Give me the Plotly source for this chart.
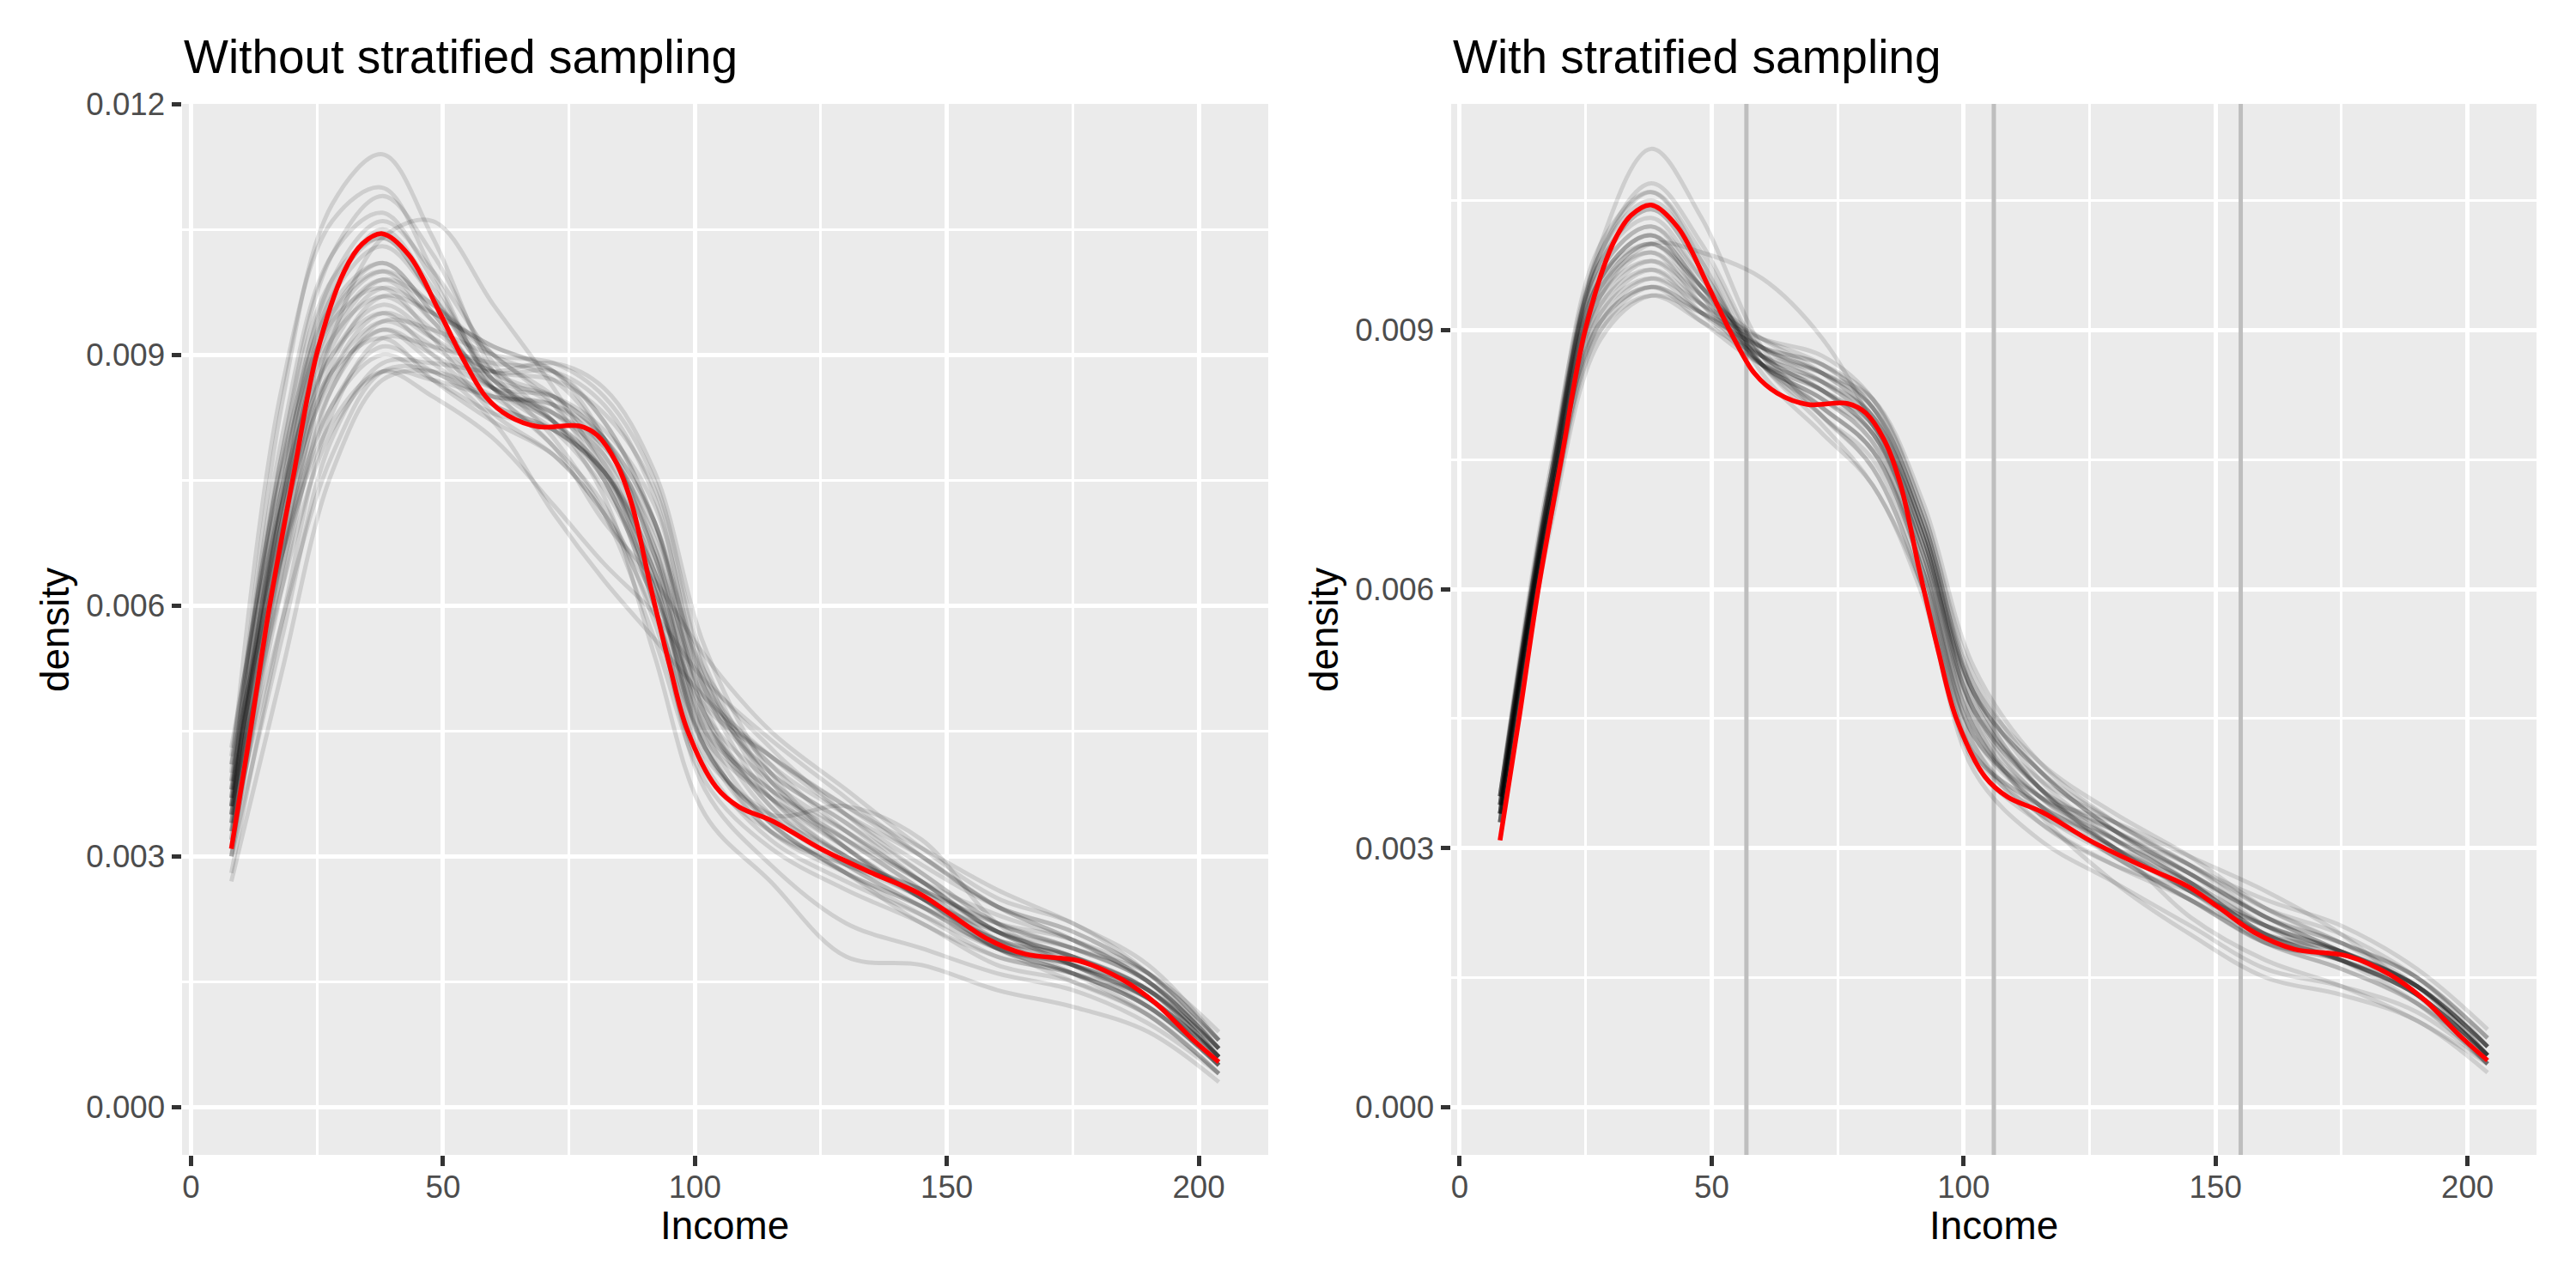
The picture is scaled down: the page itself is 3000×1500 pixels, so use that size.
import plotly.graph_objects as go

# ---------------- data ----------------
# common evaluation grid (Income) for the bootstrap density curves
income_grid = [8, 18, 28, 38, 48, 60, 72, 82, 92, 102, 115, 130, 145, 160, 175, 190, 204]

# density of the full data set (red curve, identical in both panels)
full_x = [8, 11.8, 15.6, 20.4, 24.9, 30.4, 34, 38, 43.3, 49.4, 54, 58.5, 63, 69, 77,
          80.6, 84.4, 87.5, 91.3, 95, 98.5, 104.2, 108.8, 115.5, 125.3, 135.2, 144.4,
          150.7, 157.8, 165.6, 176.2, 184.7, 191.7, 198.8, 204]
full_density = [0.00309, 0.00451, 0.0060, 0.00758, 0.0090, 0.0100, 0.01033, 0.01045,
                0.01019, 0.0095, 0.00895, 0.0085, 0.00827, 0.00814, 0.00815, 0.00804,
                0.00771, 0.00721, 0.0062, 0.00528, 0.00451, 0.00383, 0.00359, 0.00342,
                0.00308, 0.0028, 0.00256, 0.00231, 0.00202, 0.00183, 0.00175, 0.00153,
                0.00123, 0.00081, 0.00054]

# bootstrap densities without stratified sampling (units of 1e-4)
no_strat_e4 = [
    [36, 84, 108, 114, 104, 88, 80, 71, 56, 39, 31, 26, 22, 17, 15, 11, 4],
    [40, 86, 106, 110, 100, 86, 79, 72, 58, 40, 33, 29, 25, 19, 15, 11, 4],
    [34, 78, 102, 109, 102, 89, 82, 75, 60, 41, 32, 27, 23, 19, 17, 13, 6],
    [38, 80, 102, 107, 99, 87, 83, 77, 63, 43, 34, 28, 23, 18, 16, 12, 5],
    [33, 74, 99, 106, 100, 90, 85, 78, 64, 43, 33, 28, 24, 20, 17, 12, 5],
    [37, 78, 99, 104, 97, 87, 82, 75, 60, 42, 35, 30, 25, 19, 16, 12, 5],
    [35, 74, 97, 103, 97, 88, 85, 80, 67, 45, 34, 28, 22, 18, 16, 13, 6],
    [39, 77, 96, 101, 95, 86, 81, 74, 62, 45, 37, 31, 25, 20, 18, 14, 6],
    [32, 70, 94, 100, 96, 90, 87, 80, 66, 44, 33, 29, 26, 21, 17, 13, 6],
    [36, 72, 93, 99, 94, 87, 85, 80, 70, 48, 36, 30, 25, 21, 18, 14, 7],
    [41, 76, 94, 98, 92, 83, 78, 71, 59, 44, 37, 32, 27, 21, 18, 14, 6],
    [34, 68, 91, 98, 95, 91, 88, 82, 70, 47, 35, 29, 24, 19, 17, 14, 7],
    [38, 72, 92, 97, 93, 88, 88, 84, 73, 50, 37, 30, 26, 22, 19, 15, 7],
    [30, 64, 89, 97, 95, 91, 88, 80, 66, 46, 38, 33, 27, 21, 17, 13, 6],
    [36, 70, 90, 96, 92, 86, 82, 76, 64, 47, 39, 33, 27, 21, 18, 14, 7],
    [42, 74, 90, 95, 90, 84, 81, 76, 64, 46, 37, 30, 26, 22, 20, 15, 8],
    [33, 66, 88, 95, 92, 88, 87, 83, 74, 52, 38, 31, 25, 19, 16, 12, 5],
    [37, 69, 88, 94, 91, 86, 83, 78, 67, 49, 40, 34, 28, 22, 19, 15, 7],
    [31, 62, 86, 94, 93, 90, 89, 85, 75, 53, 39, 32, 26, 20, 17, 14, 6],
    [39, 70, 87, 93, 89, 84, 81, 76, 66, 50, 41, 35, 30, 24, 20, 15, 7],
    [35, 66, 86, 93, 90, 86, 85, 81, 72, 51, 39, 31, 25, 21, 19, 15, 7],
    [43, 72, 88, 92, 87, 82, 78, 71, 61, 48, 42, 36, 30, 24, 21, 16, 8],
    [28, 58, 83, 92, 91, 89, 88, 82, 70, 50, 40, 34, 27, 21, 18, 13, 5],
    [34, 64, 84, 91, 88, 85, 84, 80, 70, 51, 41, 33, 27, 23, 20, 16, 8],
    [38, 66, 84, 90, 87, 83, 81, 76, 65, 49, 42, 36, 31, 26, 22, 17, 8],
    [30, 56, 80, 89, 89, 88, 89, 86, 76, 55, 40, 31, 25, 20, 18, 14, 6],
    [36, 62, 81, 88, 87, 85, 84, 79, 69, 52, 43, 35, 28, 22, 19, 16, 9],
    [27, 52, 76, 87, 88, 85, 79, 70, 63, 54, 45, 38, 31, 25, 22, 16, 7],
    [41, 66, 82, 88, 85, 80, 72, 65, 59, 51, 44, 37, 30, 24, 20, 15, 6],
    [33, 58, 78, 88, 88, 82, 71, 63, 56, 49, 42, 35, 29, 24, 21, 16, 8],
    [35, 72, 95, 101, 95, 86, 82, 76, 62, 43, 35, 36, 32, 22, 17, 13, 6],
    [37, 76, 98, 104, 97, 87, 82, 73, 54, 35, 27, 18, 17, 14, 12, 9, 3],
    [32, 72, 97, 105, 98, 88, 84, 77, 60, 38, 29, 22, 19, 16, 14, 10, 4],
    [30, 66, 92, 104, 106, 96, 86, 76, 63, 43, 34, 28, 24, 19, 16, 12, 5],
    [35, 70, 92, 99, 96, 90, 84, 75, 62, 45, 38, 32, 26, 20, 16, 11, 4],
    [36, 73, 95, 100, 94, 86, 83, 79, 68, 47, 36, 29, 24, 19, 17, 13, 5],
]

# bootstrap densities with stratified sampling (units of 1e-4)
strat_e4 = [
    [34, 72, 100, 111, 103, 88, 80, 74, 60, 40, 33, 28, 24, 19, 17, 13, 6],
    [35, 73, 99, 107, 100, 87, 80, 75, 61, 41, 34, 29, 24, 19, 16, 12, 5],
    [33, 72, 99, 106, 99, 87, 81, 76, 62, 42, 33, 28, 25, 21, 18, 14, 7],
    [36, 74, 99, 105, 98, 86, 80, 74, 60, 41, 35, 30, 25, 20, 17, 13, 6],
    [34, 72, 98, 104, 97, 86, 81, 76, 63, 43, 35, 29, 24, 19, 17, 13, 6],
    [35, 73, 98, 103, 96, 86, 82, 77, 62, 42, 34, 30, 26, 21, 17, 12, 5],
    [33, 71, 97, 102, 96, 87, 83, 78, 64, 44, 35, 29, 24, 20, 18, 14, 7],
    [36, 73, 97, 102, 95, 86, 82, 77, 63, 43, 36, 31, 26, 20, 17, 13, 6],
    [34, 71, 96, 101, 95, 87, 83, 78, 65, 45, 36, 30, 25, 19, 16, 12, 6],
    [35, 72, 96, 101, 94, 86, 82, 78, 64, 44, 35, 31, 27, 22, 18, 14, 7],
    [33, 70, 95, 100, 95, 88, 84, 79, 66, 46, 37, 30, 25, 20, 18, 14, 7],
    [36, 72, 95, 99, 93, 86, 83, 78, 64, 44, 36, 32, 27, 21, 17, 13, 6],
    [34, 70, 94, 99, 94, 88, 85, 80, 67, 47, 37, 30, 25, 21, 18, 13, 5],
    [35, 71, 94, 98, 93, 87, 84, 79, 66, 46, 37, 32, 27, 22, 19, 15, 7],
    [33, 69, 93, 98, 94, 89, 85, 80, 66, 46, 36, 31, 26, 20, 17, 14, 7],
    [36, 71, 93, 97, 92, 86, 83, 79, 65, 46, 38, 33, 28, 22, 19, 15, 8],
    [34, 69, 92, 97, 93, 88, 85, 81, 68, 48, 37, 30, 26, 21, 18, 14, 6],
    [35, 70, 92, 96, 92, 87, 84, 80, 67, 48, 39, 32, 27, 22, 18, 14, 7],
    [33, 68, 91, 96, 93, 89, 86, 81, 68, 48, 37, 31, 26, 20, 17, 13, 6],
    [36, 70, 91, 95, 91, 86, 84, 80, 67, 48, 39, 33, 28, 23, 20, 15, 8],
    [34, 68, 90, 95, 92, 88, 86, 82, 69, 49, 38, 31, 25, 21, 18, 14, 7],
    [35, 69, 90, 94, 91, 87, 85, 81, 68, 49, 40, 34, 29, 23, 19, 15, 8],
    [33, 67, 89, 94, 92, 89, 87, 82, 69, 50, 39, 32, 26, 20, 17, 13, 6],
    [36, 70, 91, 95, 92, 88, 86, 81, 67, 47, 37, 32, 28, 23, 19, 14, 6],
    [34, 70, 94, 100, 99, 96, 89, 79, 65, 48, 39, 32, 27, 22, 18, 14, 6],
    [35, 73, 100, 106, 98, 85, 78, 72, 59, 39, 31, 26, 21, 16, 14, 11, 5],
    [34, 72, 98, 104, 97, 86, 79, 72, 60, 41, 35, 30, 22, 17, 14, 10, 5],
    [33, 70, 96, 101, 95, 87, 83, 79, 66, 45, 34, 26, 20, 15, 13, 10, 4],
    [36, 72, 96, 100, 95, 88, 85, 82, 70, 51, 40, 33, 28, 24, 21, 16, 9],
    [34, 71, 95, 100, 94, 86, 81, 76, 62, 43, 36, 33, 29, 25, 20, 13, 5],
]

# strata boundaries (Income) drawn in the right panel
strata_breaks = [56.9, 106.0, 155.0]

x_ticks = [0, 50, 100, 150, 200]
x_minor = [25, 75, 125, 175]
left_y_ticks = [0.0, 0.003, 0.006, 0.009, 0.012]
right_y_ticks = [0.0, 0.003, 0.006, 0.009]
y_minor = [0.0015, 0.0045, 0.0075, 0.0105]

panel_titles = ["Without stratified sampling", "With stratified sampling"]
x_title = "Income"
y_title = "density"

# ---------------- style / layout ----------------
# the page body has an 8px margin, so the figure is 16px smaller than the window
OFF = 8
W, H = 3000 - 2 * OFF, 1500 - 2 * OFF
FONT = "Liberation Sans, Arial, Helvetica, sans-serif"


def fx(p):  # window pixel -> paper x
    return (p - OFF) / W


def fy(p):  # window pixel -> paper y
    return 1 - (p - OFF) / H


left_px = (212, 1477)
right_px = (1690, 2954)
top_px, bottom_px = 121, 1345
left_yrange = [-0.000572, 0.012003]
right_yrange = [-0.000554, 0.011621]
xrange = [-1.79, 213.8]
xrange2 = [-1.70, 213.7]

GRAY = "rgba(0,0,0,0.12)"
LW = 5.0

fig = go.Figure()


def add_curves(rows, xa, ya):
    for row in rows:
        fig.add_trace(go.Scatter(
            x=income_grid, y=[v / 1e4 for v in row], xaxis=xa, yaxis=ya,
            mode="lines", line=dict(color=GRAY, width=LW, shape="spline", smoothing=1.0),
            hoverinfo="skip", showlegend=False))


# left panel
add_curves(no_strat_e4, "x", "y")
fig.add_trace(go.Scatter(x=full_x, y=full_density, xaxis="x", yaxis="y", mode="lines",
                         line=dict(color="#FF0000", width=5.5, shape="spline", smoothing=1.0),
                         showlegend=False))

# right panel: strata boundary lines
for b in strata_breaks:
    fig.add_trace(go.Scatter(x=[b, b], y=right_yrange, xaxis="x2", yaxis="y2", mode="lines",
                             line=dict(color="#BEBEBE", width=5), hoverinfo="skip",
                             showlegend=False))
add_curves(strat_e4, "x2", "y2")
fig.add_trace(go.Scatter(x=full_x, y=full_density, xaxis="x2", yaxis="y2", mode="lines",
                         line=dict(color="#FF0000", width=5.5, shape="spline", smoothing=1.0),
                         showlegend=False))

ydom = [fy(bottom_px), fy(top_px)]


def xaxis_cfg(px, rng, anchor):
    return dict(domain=[fx(px[0]), fx(px[1])], range=rng, anchor=anchor,
                tickmode="array", tickvals=x_ticks, ticks="outside", ticklen=11.5,
                tickwidth=5, tickcolor="#333333", ticklabelstandoff=-7,
                tickfont=dict(family=FONT, size=36.7, color="#4D4D4D"),
                showgrid=True, gridcolor="white", gridwidth=5, zeroline=False,
                showline=False, fixedrange=True, automargin=False,
                minor=dict(tickvals=x_minor, showgrid=True, gridcolor="white",
                           gridwidth=2.8, ticks=""))


def yaxis_cfg(rng, ticks, anchor):
    return dict(domain=ydom, range=rng, anchor=anchor,
                tickmode="array", tickvals=ticks, tickformat=".3f",
                ticks="outside", ticklen=11.5, tickwidth=5, tickcolor="#333333",
                tickfont=dict(family=FONT, size=36.7, color="#4D4D4D"),
                showgrid=True, gridcolor="white", gridwidth=5, zeroline=False,
                showline=False, fixedrange=True, automargin=False,
                minor=dict(tickvals=y_minor, showgrid=True, gridcolor="white",
                           gridwidth=2.8, ticks=""))


annotations = []
for px, ttl in zip([left_px, right_px], panel_titles):
    annotations.append(dict(text=ttl, x=fx(px[0]), y=fy(66), xref="paper", yref="paper",
                            xanchor="left", yanchor="middle", showarrow=False,
                            font=dict(family=FONT, size=55, color="black")))
    annotations.append(dict(text=x_title, x=fx((px[0] + px[1]) / 2), y=fy(1427),
                            xref="paper", yref="paper", xanchor="center", yanchor="middle",
                            showarrow=False, font=dict(family=FONT, size=45.8, color="black")))
    annotations.append(dict(text=y_title, x=fx(px[0] - 148), y=fy(733),
                            xref="paper", yref="paper", xanchor="center", yanchor="middle",
                            textangle=-90, showarrow=False,
                            font=dict(family=FONT, size=45.8, color="black")))

fig.update_layout(
    template="none",
    width=W, height=H, margin=dict(l=0, r=0, t=0, b=0, pad=0, autoexpand=False),
    paper_bgcolor="white", plot_bgcolor="#EBEBEB",
    font=dict(family=FONT),
    xaxis=xaxis_cfg(left_px, xrange, "y"),
    yaxis=yaxis_cfg(left_yrange, left_y_ticks, "x"),
    xaxis2=xaxis_cfg(right_px, xrange2, "y2"),
    yaxis2=yaxis_cfg(right_yrange, right_y_ticks, "x2"),
    annotations=annotations, showlegend=False,
)

fig.write_html("out.html")
